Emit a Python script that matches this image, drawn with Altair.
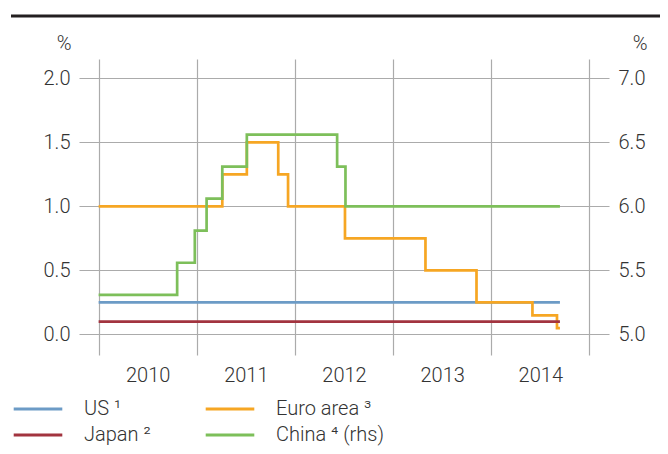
import altair as alt
import pandas as pd

# ---- data (policy rates, %) ----
us_label = "US ¹"
jp_label = "Japan ²"
ea_label = "Euro area ³"
cn_label = "China ⁴ (rhs)"

us_years = [2010.0, 2014.70]
us_rates = [0.25, 0.25]

jp_years = [2010.0, 2014.70]
jp_rates = [0.10, 0.10]

ea_years = [2010.0, 2011.26, 2011.51, 2011.83, 2011.93, 2012.51, 2013.33, 2013.85, 2014.42, 2014.67, 2014.70]
ea_rates = [1.00, 1.25, 1.50, 1.25, 1.00, 0.75, 0.50, 0.25, 0.15, 0.05, 0.05]

cn_years = [2010.0, 2010.80, 2010.98, 2011.10, 2011.26, 2011.51, 2012.43, 2012.515, 2014.70]
cn_rates = [5.31, 5.56, 5.81, 6.06, 6.31, 6.56, 6.31, 6.00, 6.00]

left_ticks = [0.0, 0.5, 1.0, 1.5, 2.0]
right_ticks = [5.0, 5.5, 6.0, 6.5, 7.0]
x_ticks = [2010, 2010.5, 2011, 2011.5, 2012, 2012.5, 2013, 2013.5, 2014, 2014.5, 2015]

series_order = [us_label, jp_label, ea_label, cn_label]
series_colors = ["#6c9bc6", "#a2343f", "#f6a623", "#7dbf5a"]

rows = []
for lab, ys, vs in [(us_label, us_years, us_rates), (ea_label, ea_years, ea_rates), (jp_label, jp_years, jp_rates)]:
    for i, (y, v) in enumerate(zip(ys, vs)):
        rows.append({"series": lab, "year": y, "rate": v, "ord": i})
left_df = pd.DataFrame(rows)
cn_df = pd.DataFrame({"series": cn_label, "year": cn_years, "rate": cn_rates, "ord": list(range(len(cn_years)))})

FONT = "Roboto"
W, H = 530, 296

color = alt.Color(
    "series:N",
    scale=alt.Scale(domain=series_order, range=series_colors),
    legend=alt.Legend(
        title=None, orient="none", legendX=-56, legendY=335, columns=2,
        symbolType="M-1.8,0H1.8", symbolSize=729, symbolStrokeWidth=3,
        symbolFillColor="transparent",
        labelOffset=31, columnPadding=48, rowPadding=1, padding=0,
        labelFont=FONT, labelFontSize=20, labelColor="#333333", labelFontWeight=300,
        labelLimit=300,
    ),
)

x_enc = alt.X(
    "year:Q",
    scale=alt.Scale(domain=[2009.8, 2015.2], nice=False, zero=False),
    axis=alt.Axis(
        values=x_ticks, title=None, ticks=False, tickSize=0, domain=False,
        labelExpr="datum.value % 1 == 0 ? '' : '' + floor(datum.value)",
        labelPadding=26, labelBaseline="alphabetic", labelOverlap=False, labelFlush=False,
        grid=True,
        gridOpacity={"condition": {"test": "datum.value % 1 != 0", "value": 0}, "value": 1},
    ),
)

left_y = alt.Y(
    "rate:Q",
    scale=alt.Scale(domain=[-0.16, 2.15], nice=False, zero=False),
    axis=alt.Axis(
        orient="left", values=left_ticks, format=".1f", grid=True, ticks=False, tickSize=0,
        domain=False, labelPadding=9, title="%", titleAngle=0, titleAlign="right",
        titleX=-8, titleY=-10, titleBaseline="alphabetic",
    ),
)

right_y = alt.Y(
    "rate:Q",
    scale=alt.Scale(domain=[4.84, 7.15], nice=False, zero=False),
    axis=alt.Axis(
        orient="right", values=right_ticks, format=".1f", grid=False, ticks=False, tickSize=0,
        domain=False, labelPadding=9, title="%", titleAngle=0, titleAlign="right",
        titleX=38, titleY=-10, titleBaseline="alphabetic",
    ),
)

top_rule = alt.Chart(pd.DataFrame({"k": [0]})).mark_rule(color="#231f20", strokeWidth=3).encode(
    x=alt.value(-68), x2=alt.value(581), y=alt.value(-43)
)

left_lines = alt.Chart(left_df).mark_line(interpolate="step-after", strokeWidth=2.7).encode(
    x=x_enc, y=left_y, color=color, detail="series:N", order="ord:Q"
)

cn_line = alt.Chart(cn_df).mark_line(interpolate="step-after", strokeWidth=2.7).encode(
    x=alt.X("year:Q", scale=alt.Scale(domain=[2009.8, 2015.2], nice=False, zero=False)),
    y=right_y, color=color, order="ord:Q"
)

chart = (
    alt.layer(left_lines, cn_line, top_rule)
    .resolve_scale(y="independent")
    .properties(
        width=W, height=H,
        autosize=alt.AutoSizeParams(type="none"),
        padding={"left": 71, "top": 51, "right": 51, "bottom": 91},
    )
    .configure_view(stroke=None)
    .configure_axis(
        labelFont=FONT, labelFontSize=20, labelColor="#333333", labelFontWeight=300,
        titleFont=FONT, titleFontSize=20, titleColor="#333333", titleFontWeight=300,
        gridColor="#ababab", gridWidth=1.2,
    )
)

chart.save("out.html", embed_options={"renderer": "svg", "actions": False})
